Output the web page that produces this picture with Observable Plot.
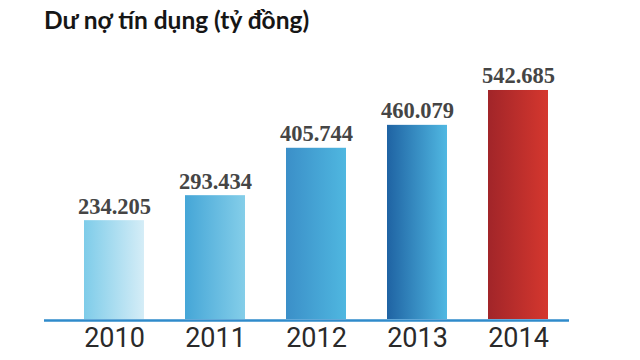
<!DOCTYPE html>
<html>
<head>
<meta charset="utf-8">
<script src="https://cdn.jsdelivr.net/npm/d3@7"></script>
<script src="https://cdn.jsdelivr.net/npm/@observablehq/plot@0.6"></script>
<style>
  html, body { margin: 0; padding: 0; background: #fff; }
  #title { height: 45px; box-sizing: border-box; padding: 8px 0 0 44px; font: 700 24.5px Lato, "Open Sans", sans-serif; line-height: 1; color: #161616; white-space: nowrap; }
  svg { display: block; }
</style>
</head>
<body>
<div id="title">Dư nợ tín dụng (tỷ đồng)</div>
<div id="chart"></div>
<script>
// Data
const years = ["2010", "2011", "2012", "2013", "2014"];
const values = [234205, 293434, 405744, 460079, 542685];

// Styles (gradient stops left -> right per bar)
const gradLeft  = ["#7ecce9", "#45a6d7", "#3b8fc8", "#1f63a3", "#a12529"];
const gradRight = ["#d5edf7", "#84cee9", "#4fb7e0", "#50b8e2", "#d5372e"];

const data = years.map((y, i) => ({year: y, value: values[i], grad: `url(#g${i})`}));

const fmt = d3.formatLocale({thousands: ".", decimal: ",", grouping: [3], currency: ["", ""]}).format(",d");

const defs = () => {
  const ns = "http://www.w3.org/2000/svg";
  const d = document.createElementNS(ns, "defs");
  years.forEach((y, i) => {
    const g = document.createElementNS(ns, "linearGradient");
    g.setAttribute("id", `g${i}`);
    g.setAttribute("x1", "0"); g.setAttribute("x2", "1");
    g.setAttribute("y1", "0"); g.setAttribute("y2", "0");
    [[0, gradLeft[i]], [1, gradRight[i]]].forEach(([o, c]) => {
      const s = document.createElementNS(ns, "stop");
      s.setAttribute("offset", o);
      s.setAttribute("stop-color", c);
      g.appendChild(s);
    });
    d.appendChild(g);
  });
  return d;
};

const base = 274;
const chart = Plot.plot({
  width: 640,
  height: 315,
  marginLeft: 44,
  marginRight: 71,
  marginTop: 0,
  marginBottom: 41,
  x: {domain: years, range: [63, 568], paddingInner: 0.41, paddingOuter: 0.205, axis: null},
  y: {domain: [0, 600000], range: [base, base - 0.422 * 600], axis: null},
  color: {type: "identity"},
  marks: [
    defs,
    Plot.barY(data, {x: "year", y: "value", fill: "grad", inset: 0}),
    Plot.ruleY([0], {stroke: "#2f8bcb", strokeWidth: 2.5, dy: 1}),
    Plot.text(data, {x: "year", y: "value", text: d => fmt(d.value), lineAnchor: "bottom", dy: -7,
      fontFamily: "'Liberation Serif', 'DejaVu Serif', serif", fontWeight: 700, fontSize: 22.5, fill: "#454545"}),
    Plot.text(data, {x: "year", y: 0, text: "year", dy: 19,
      fontFamily: "'Liberation Sans Narrow', 'Roboto', sans-serif", fontWeight: 400, fontSize: 27, fill: "#2a2a2a"})
  ]
});
document.getElementById("chart").appendChild(chart);
</script>
</body>
</html>
